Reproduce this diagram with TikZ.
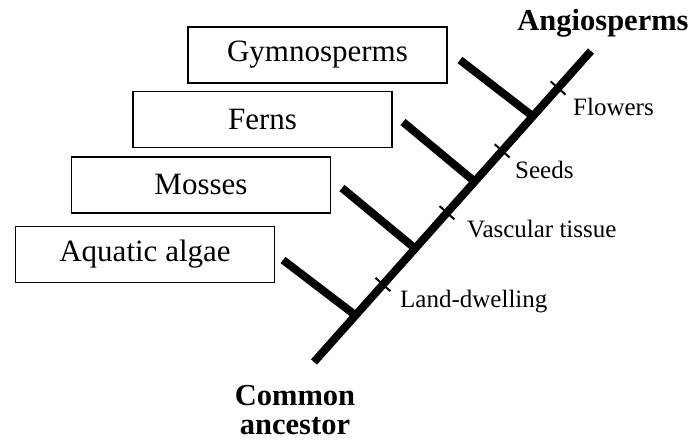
\documentclass[tikz,border=0pt]{standalone}
\usepackage{fontspec}
\setmainfont{Liberation Serif}
\usetikzlibrary{calc}
\begin{document}
\begin{tikzpicture}[x=1pt,y=-1pt,
  taxon/.style={draw,line width=1.5pt,minimum width=259pt,minimum height=56pt,inner sep=0pt,font=\fontsize{31}{33}\selectfont},
  trunk/.style={line width=8pt},
  twig/.style={line width=8pt},
  tickmark/.style={line width=2pt},
  trait/.style={anchor=base west,inner sep=0pt,font=\fontsize{25}{27}\selectfont},
  endlabel/.style={align=center,inner sep=0pt,font=\fontsize{30.5}{31}\selectfont\bfseries}]
\useasboundingbox (0,0) rectangle (698,441);
% boxes
\node[taxon] (gym) at (317.5,55) {Gymnosperms};
\node[taxon] (fern) at (262.5,119.5) {Ferns};
\node[taxon] (moss) at (201,185) {Mosses};
\node[taxon] (alg) at (145,254.5) {Aquatic algae};
% trunk
\coordinate (root) at (314,362);
\coordinate (tip) at (591,51);
\draw[trunk] (root) -- (tip);
% junctions
\coordinate (j1) at ($(root)!0.15!(tip)$);
\coordinate (j2) at ($(root)!0.365!(tip)$);
\coordinate (j3) at ($(root)!0.58!(tip)$);
\coordinate (j4) at ($(root)!0.79!(tip)$);
\coordinate (b1) at (283,260);
\coordinate (b2) at (342,188);
\coordinate (b3) at (403,122);
\coordinate (b4) at (460,60);
\draw[twig] (b1) -- (j1);
\draw[twig] (b2) -- (j2);
\draw[twig] (b3) -- (j3);
\draw[twig] (b4) -- (j4);
% ticks
\foreach \t/\n in {0.249/k1,0.48/k2,0.679/k3,0.881/k4}{
  \coordinate (\n) at ($(root)!\t!(tip)$);
  \draw[tickmark] ($(\n)!10pt!90:(tip)$) -- ($(\n)!10pt!-90:(tip)$);
}
% trait labels
\node[trait] (land) at (400,307) {Land-dwelling};
\node[trait] (vasc) at (467,237) {Vascular tissue};
\node[trait] (seed) at (515,178) {Seeds};
\node[trait] (flow) at (573,115) {Flowers};
% end labels
\node[endlabel,anchor=base] (angio) at (603,31) {Angiosperms};
\node[endlabel,anchor=base] (common) at (295,405) {Common};
\node[endlabel,anchor=base] (anc) at (295,434) {ancestor};
\end{tikzpicture}
\end{document}
